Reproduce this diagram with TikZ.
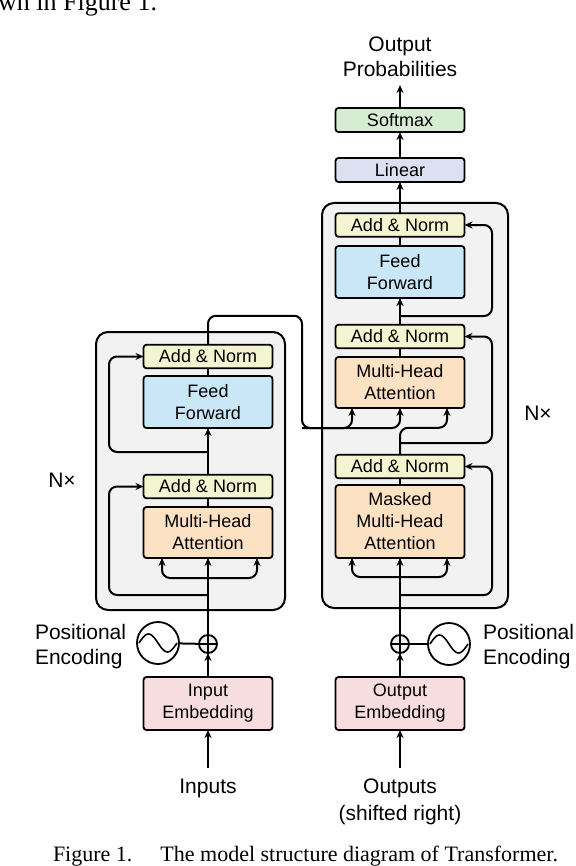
\documentclass[tikz,border=0pt]{standalone}
\usepackage{fontspec}
\setmainfont{Liberation Serif}
\newfontfamily\helv{Liberation Sans}
\usetikzlibrary{arrows.meta,positioning}
\definecolor{anorm}{HTML}{F2F5CF}
\definecolor{ffwd}{HTML}{C9E7F6}
\definecolor{attn}{HTML}{FCE1C3}
\definecolor{embd}{HTML}{F7DDDF}
\definecolor{smax}{HTML}{D6EDD3}
\definecolor{lin}{HTML}{DDE0F1}
\definecolor{stack}{HTML}{F2F2F2}

\begin{document}
\begin{tikzpicture}[
  x=0.5pt, y=-0.5pt,
  every node/.style={anchor=center, font=\helv\fontsize{9}{11}\selectfont, inner sep=0pt, outer sep=0pt},
  blk/.style={draw, line width=0.9pt, rounded corners=1.5pt, minimum width=64.5pt, align=center},
  an/.style={blk, fill=anorm, minimum height=11.75pt},
  lbl/.style={font=\helv\fontsize{10.5}{12.5}\selectfont, align=center},
  stk/.style={draw, line width=1pt, fill=stack, rounded corners=6pt},
  pls/.style={circle, draw, line width=0.9pt, fill=gray!12, minimum size=9pt,
    path picture={\draw[line width=0.7pt] (path picture bounding box.north) -- (path picture bounding box.south)
      (path picture bounding box.west) -- (path picture bounding box.east);}},
  pe/.style={circle, draw, line width=0.9pt, fill=white, minimum size=21pt,
    path picture={\draw[line width=0.8pt, shift={(path picture bounding box.center)}]
      plot[domain=-9.5:9.5, samples=30, smooth] ({\x*1pt}, {-4.5*sin(\x*180/9.5)*1pt});}},
  wire/.style={line width=1pt, rounded corners=4pt},
  arr/.style={wire, -{Stealth[length=4pt,width=3.5pt]}},
]
\useasboundingbox (0,0) rectangle (576,866);
\node[font=\fontsize{13}{15}\selectfont, anchor=base east] (prev) at (157,11) {wn in Figure 1.};
% the two stacks
\node[stk, minimum width=94.5pt, minimum height=139pt] (encstk) at (190.5,471) {};
\node[stk, minimum width=93pt, minimum height=202.5pt] (decstk) at (415,405.5) {};
\node[lbl] (encn) at (62,480) {N×};
\node[lbl] (decn) at (538,413) {N×};
% encoder
\node[an] (encan2) at (208,356.5) {Add \& Norm};
\node[blk, fill=ffwd, minimum height=26pt] (encff) at (208,402) {Feed\\Forward};
\node[an] (encan1) at (208,486.5) {Add \& Norm};
\node[blk, fill=attn, minimum height=25.5pt] (encmha) at (208,532.5) {Multi-Head\\Attention};
\node[blk, fill=embd, minimum height=26.5pt] (encemb) at (208,703.5) {Input\\Embedding};
\node[pls] (encpls) at (208,644) {};
\node[pe] (encpe) at (158,643) {};
\node[lbl, anchor=north west, align=left] (encpetxt) at (35,624) {Positional\\Encoding};
\node[lbl, anchor=north] (inp) at (208,779) {Inputs};
% decoder
\node[an] (decan3) at (400,225) {Add \& Norm};
\node[blk, fill=ffwd, minimum height=26pt] (decff) at (400,272) {Feed\\Forward};
\node[an] (decan2) at (400,336.5) {Add \& Norm};
\node[blk, fill=attn, minimum height=25.5pt] (decmha) at (400,382.5) {Multi-Head\\Attention};
\node[an] (decan1) at (400,466.5) {Add \& Norm};
\node[blk, fill=attn, minimum height=36.5pt] (decmmha) at (400,521.5) {Masked\\Multi-Head\\Attention};
\node[blk, fill=embd, minimum height=26.5pt] (decemb) at (400,703.5) {Output\\Embedding};
\node[pls] (decpls) at (400,644) {};
\node[pe] (decpe) at (449,644) {};
\node[lbl, anchor=north west, align=left] (decpetxt) at (483,624) {Positional\\Encoding};
\node[lbl, anchor=north] (outp) at (400,779) {Outputs\\[1pt](shifted right)};
\node[blk, fill=lin, minimum height=12pt] (linear) at (400,170) {Linear};
\node[blk, fill=smax, minimum height=12pt] (softmax) at (400,120) {Softmax};
\node[lbl, anchor=north] (prob) at (400,37) {Output\\Probabilities};
\node[font=\fontsize{11}{13}\selectfont, anchor=base west] (cap) at (53,861)
  {Figure 1.\hspace{14pt}The model structure diagram of Transformer.};
% free ends
\coordinate (encin) at (208,768);
\coordinate (encsplit) at (208,578);
\coordinate (encres1) at (208,595);
\coordinate (encres2) at (208,452);
\coordinate (encout) at (302,428);
\coordinate (decin) at (400,768);
\coordinate (decsplit) at (400,577);
\coordinate (decres1) at (400,595);
\coordinate (decres2) at (400,443);
\coordinate (decres3) at (400,316);
\coordinate (probin) at (400,85);
% encoder wiring
\draw[arr] (encin) -- (encemb.south);
\draw[arr] (encemb.north) -- (encpls.south);
\draw[wire] (encpe) -- (encpls);
\draw[arr] (encpls.north) -- (encmha.south);
\draw[arr] (encsplit) -| ([xshift=-23pt]encmha.south);
\draw[arr] (encsplit) -| ([xshift=24.5pt]encmha.south);
\draw[arr] (encres1) -- ++(-99,0) |- (encan1.west);
\draw[wire] (encmha.north) -- (encan1.south);
\draw[arr] (encan1.north) -- (encff.south);
\draw[arr] (encres2) -- ++(-99,0) |- (encan2.west);
\draw[wire] (encff.north) -- (encan2.south);
\draw[arr] (encan2.north) -- ++(0,-29) -| (encout) -| ([xshift=-24pt]decmha.south);
\draw[arr] (encout) -| (decmha.south);
% decoder wiring
\draw[arr] (decin) -- (decemb.south);
\draw[arr] (decemb.north) -- (decpls.south);
\draw[wire] (decpe) -- (decpls);
\draw[arr] (decpls.north) -- (decmmha.south);
\draw[arr] (decsplit) -| ([xshift=-24pt]decmmha.south);
\draw[arr] (decsplit) -| ([xshift=23.5pt]decmmha.south);
\draw[arr] (decres1) -- ++(92,0) |- (decan1.east);
\draw[wire] (decmmha.north) -- (decan1.south);
\draw[arr] (decan1.north) -- ++(0,-27) -| ([xshift=23.5pt]decmha.south);
\draw[arr] (decres2) -- ++(92,0) |- (decan2.east);
\draw[wire] (decmha.north) -- (decan2.south);
\draw[arr] (decan2.north) -- (decff.south);
\draw[arr] (decres3) -- ++(92,0) |- (decan3.east);
\draw[wire] (decff.north) -- (decan3.south);
\draw[arr] (decan3.north) -- (linear.south);
\draw[arr] (linear.north) -- (softmax.south);
\draw[arr] (softmax.north) -- (probin);
\end{tikzpicture}
\end{document}
